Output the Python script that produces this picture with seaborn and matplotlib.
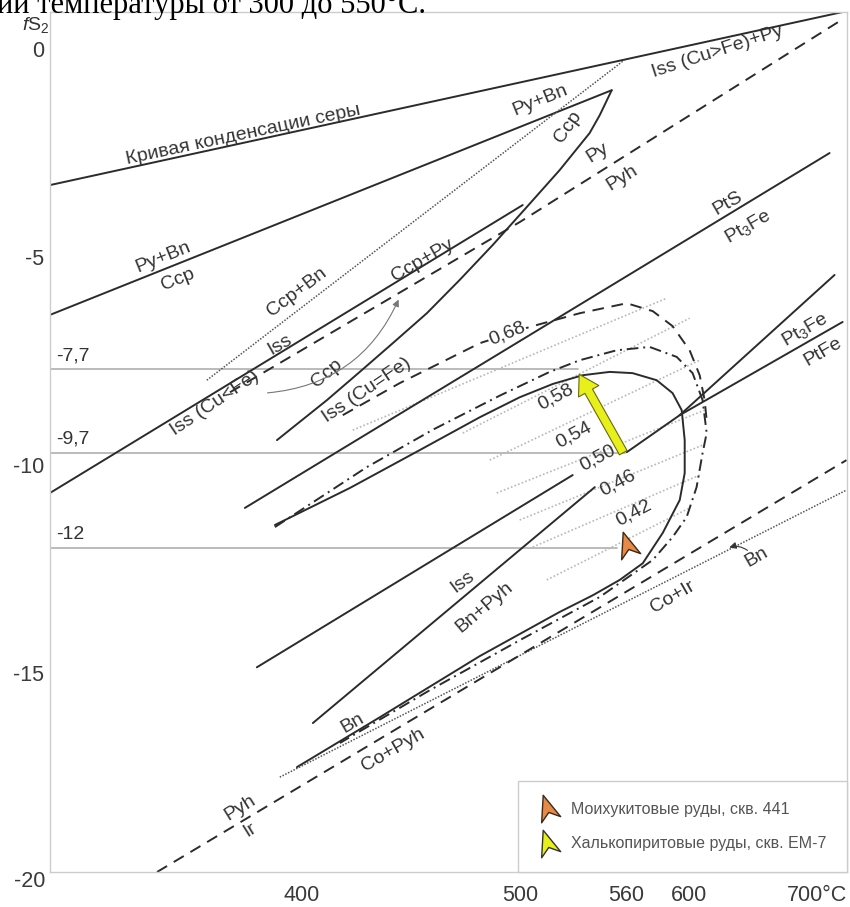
import numpy as np
import matplotlib
matplotlib.use("Agg")
import matplotlib.pyplot as plt
import seaborn as sns
from matplotlib.lines import Line2D
from matplotlib.markers import MarkerStyle
from matplotlib.path import Path
from matplotlib.patches import FancyArrowPatch
from matplotlib.transforms import Affine2D, ScaledTranslation

# temperature (°C) and log fS2
sulfur_t = [312.6, 717.2]
sulfur_f = [-3.27, 0.89]

pybn_t = [312.6, 551.3]
pybn_f = [-6.39, -0.99]

ccp_t = [551.3, 544.2, 538.3, 521.3, 503.4, 485.8, 469.4, 453.8, 438.3, 423.9, 410.1, 390.2]
ccp_f = [-0.99, -1.59, -2.02, -2.91, -3.80, -4.71, -5.55, -6.35, -7.07, -7.76, -8.44, -9.40]

iss_cufe_t = [312.6, 501.3]
iss_cufe_f = [-10.67, -3.75]

ccpbn_t = [364.1, 559.1]
ccpbn_f = [-7.96, -0.26]

pypyh_t = [372.5, 499.7, 716.3]
pypyh_f = [-8.25, -4.16, 0.70]

pts_t = [378.0, 706.1]
pts_f = [-11.03, -2.50]

loop_t = [389.4, 419.7, 450.5, 479.3, 499.7, 517.5, 534.3, 550.1, 564.0, 579.1, 589.4, 595.4,
          597.4, 597.4, 594.1, 583.0, 570.3, 556.1, 540.1, 521.3, 479.3, 432.6, 398.0]
loop_f = [-11.44, -10.55, -9.64, -8.85, -8.37, -8.05, -7.84, -7.76, -7.79, -7.96, -8.27, -8.68,
          -9.40, -10.19, -10.84, -11.63, -12.36, -12.76, -13.13, -13.53, -14.59, -16.06, -17.26]

dd_t = [389.4, 426.9, 456.6, 489.4, 515.8, 532.6, 554.3, 574.6, 592.1, 602.7, 609.5, 612.3,
        609.5, 605.4, 598.7, 589.4, 576.6, 544.2, 499.7, 455.2, 415.5]
dd_f = [-11.49, -10.05, -9.15, -8.33, -7.76, -7.48, -7.24, -7.16, -7.40, -7.79, -8.44, -9.23,
        -9.71, -10.53, -11.25, -11.73, -12.28, -13.17, -14.21, -15.41, -16.68]

outer_t = [416.7, 441.4, 459.9, 479.3, 505.0, 532.6, 560.4, 576.6, 589.4, 600.7, 607.5, 610.9, 612.3]
outer_f = [-8.80, -8.03, -7.55, -7.07, -6.68, -6.35, -6.11, -6.30, -6.66, -7.24, -7.84, -8.44, -8.92]

bn_t = [391.3, 720.6]
bn_f = [-17.50, -10.60]

pyhir_t = [346.8, 720.6]
pyhir_f = [-19.78, -9.88]

iss_up_t = [382.5, 528.6]
iss_up_f = [-14.86, -10.24]

iss_bnpyh_t = [404.4, 541.3]
iss_bnpyh_f = [-16.20, -10.53]

pt_stem_t = [560.4, 594.1]
pt_stem_f = [-9.69, -8.80]
pt3fe_t = [594.1, 710.3]
pt3fe_f = [-8.80, -5.43]
ptfe_t = [594.1, 717.2]
ptfe_f = [-8.80, -6.56]

# faint isopleths inside the loop
iso_t = [[420.9, 585.5], [470.9, 600.7], [484.3, 607.5], [487.8, 610.9],
         [499.7, 610.9], [506.6, 607.5], [514.2, 600.7]]
iso_f = [[-9.16, -5.99], [-9.23, -6.47], [-9.88, -7.48], [-10.67, -8.68],
         [-11.32, -9.50], [-11.97, -10.24], [-12.76, -11.03]]

iso_labels = ["0,68", "0,58", "0,54", "0,50", "0,46", "0,42"]
iso_lab_t = [493.0, 519.1, 529.2, 543.0, 554.9, 564.7]
iso_lab_f = [-6.83, -8.37, -9.28, -9.83, -10.43, -11.15]
iso_lab_rot = [22, 28, 28, 28, 28, 28]

ref_f = [-7.7, -9.7, -12.0]
ref_end_t = [531.5, 559.1, 554.3]
ref_labels = ["-7,7", "-9,7", "-12"]

# samples
moi_t, moi_f = 560.4, -11.92
chp_t = [559.1, 531.5]
chp_f = [-9.76, -7.76]

phase_labels = [
    ("Кривая конденсации серы", 377.3, -2.07, 12),
    ("Py+Bn", 348.8, -5.00, 22),
    ("Ccp", 353.9, -5.55, 22),
    ("Py+Bn", 510.4, -1.23, 22),
    ("Ccp", 525.8, -1.88, 55),
    ("Iss (Cu>Fe)+Py", 619.9, -0.07, 18),
    ("Py", 543.0, -2.50, 32),
    ("Pyh", 557.3, -3.10, 32),
    ("Ccp+Bn", 398.0, -5.84, 37),
    ("Iss", 391.3, -7.12, 30),
    ("Ccp+Py", 451.9, -5.07, 30),
    ("Ccp", 410.1, -7.79, 40),
    ("Iss (Cu<Fe)", 367.0, -8.51, 34),
    ("Iss (Cu=Fe)", 426.9, -8.20, 34),
    ("PtS", 627.0, -3.70, 30),
    ("Pt$_3$Fe", 641.5, -4.28, 30),
    ("Pt$_3$Fe", 685.5, -6.75, 30),
    ("PtFe", 700.2, -7.28, 30),
    ("Iss", 470.9, -12.81, 37),
    ("Bn+Pyh", 481.8, -13.41, 40),
    ("Bn", 420.9, -16.20, 30),
    ("Co+Pyh", 438.3, -16.85, 30),
    ("Pyh", 376.1, -18.25, 32),
    ("Ir", 379.9, -18.77, 32),
    ("Co+Ir", 589.4, -13.17, 30),
    ("Bn", 648.2, -12.21, 30),
]

xticks = [400, 500, 560, 600, 700]
xtick_labels = ["400", "500", "560", "600", "700°C"]
yticks = [0, -5, -10, -15]
ytick_labels = ["0", "-5", "-10", "-15"]

legend_labels = ["Моихукитовые руды, скв. 441", "Халькопиритовые руды, скв. ЕМ-7"]

INK = "#2b2b2b"
ORANGE = "#e68a45"
YELLOW = "#e8f01c"

sns.set_theme(style="white")
plt.rcParams["font.family"] = ["Liberation Sans", "DejaVu Sans"]
plt.rcParams["axes.unicode_minus"] = False
plt.rcParams["mathtext.fontset"] = "custom"
plt.rcParams["mathtext.rm"] = "Liberation Sans"
plt.rcParams["mathtext.it"] = "Liberation Sans:italic"

fig = plt.figure(figsize=(8.5, 9.07), dpi=100)
ax = fig.add_axes([50 / 850, 35 / 907, 797 / 850, 860 / 907])


def fwd(t):
    return -1000.0 / (np.asarray(t, dtype=float) + 273.15)


def inv(u):
    with np.errstate(divide="ignore"):
        return -1000.0 / np.asarray(u, dtype=float) - 273.15


ax.set_xscale("function", functions=(fwd, inv))
ax.set_xlim(312.6, 721)
ax.set_ylim(-19.78, 0.89)

DASH = (0, (6, 4))
DASHDOT = (0, (6, 2.5, 1, 2.5))
DOT = (0, (1, 1))


def draw(t, f, ls="-", lw=1.4, color=INK, z=2):
    sns.lineplot(x=t, y=f, sort=False, estimator=None, ax=ax,
                 color=color, linewidth=lw, linestyle=ls, zorder=z)


# reference levels
for y, t_end, lab in zip(ref_f, ref_end_t, ref_labels):
    draw([312.6, t_end], [y, y], lw=1.3, color="#b5b5b5", z=1)
    ax.text(314.5, y + 0.12, lab, fontsize=14, color="#333333", ha="left", va="bottom")

for t, f in zip(iso_t, iso_f):
    draw(t, f, ls=(0, (1, 1.3)), lw=1.2, color="#b8b8b8", z=1)

draw(sulfur_t, sulfur_f)
draw(pybn_t, pybn_f)
draw(ccp_t, ccp_f)
draw(iss_cufe_t, iss_cufe_f)
draw(ccpbn_t, ccpbn_f, ls=DOT, lw=1.1, color="#555555")
draw(pypyh_t, pypyh_f, ls=DASH)
draw(pts_t, pts_f)
draw(loop_t, loop_f)
draw(dd_t, dd_f, ls=DASHDOT)
draw(outer_t, outer_f, ls=DASH)
draw(bn_t, bn_f, ls=DOT, lw=1.1, color="#555555")
draw(pyhir_t, pyhir_f, ls=DASH)
draw(iss_up_t, iss_up_f)
draw(iss_bnpyh_t, iss_bnpyh_f)
draw(pt_stem_t, pt_stem_f)
draw(pt3fe_t, pt3fe_f)
draw(ptfe_t, ptfe_f)

for txt, t, f, rot in phase_labels:
    ax.text(t, f, txt, fontsize=14, color="#333333", rotation=rot,
            rotation_mode="anchor", ha="center", va="center")

for i, (txt, t, f, rot) in enumerate(zip(iso_labels, iso_lab_t, iso_lab_f, iso_lab_rot)):
    bbox = dict(fc="white", ec="none", pad=0.5) if i == 0 else None
    ax.text(t, f, txt, fontsize=14, color="#333333", rotation=rot,
            rotation_mode="anchor", ha="center", va="center", bbox=bbox, zorder=4)

# leaders
ax.annotate("", xy=(441.4, -5.96), xytext=(385.5, -8.27),
            arrowprops=dict(arrowstyle="-|>", color="#777777", lw=0.8,
                            connectionstyle="arc3,rad=0.3", mutation_scale=10))
ax.annotate("", xy=(626.3, -12.0), xytext=(643.0, -12.09),
            arrowprops=dict(arrowstyle="-|>", color="#333333", lw=0.8,
                            connectionstyle="arc3,rad=0.3", mutation_scale=10))

# markers
chev = Path([(0, 1), (0.72, -0.85), (0, -0.3), (-0.72, -0.85), (0, 1)],
            [Path.MOVETO, Path.LINETO, Path.LINETO, Path.LINETO, Path.CLOSEPOLY])
chev_marker = MarkerStyle(chev, transform=Affine2D().rotate_deg(18))

ax.plot([moi_t], [moi_f], ls="none", marker=chev_marker, ms=20, mfc=ORANGE,
        mec="#3b2a1a", mew=1, zorder=6)

arrow = FancyArrowPatch((chp_t[0], chp_f[0]), (chp_t[1], chp_f[1]),
                        arrowstyle="simple,head_length=1.0,head_width=1.2,tail_width=0.45",
                        mutation_scale=14, fc=YELLOW, ec="#6a6a10", lw=0.8, zorder=6)
ax.add_patch(arrow)

# axes
ax.set_xticks(xticks)
ax.set_xticklabels(xtick_labels)
ax.set_yticks(yticks)
ax.set_yticklabels(ytick_labels)
ax.tick_params(axis="x", direction="out", length=6, width=1, color="#aaaaaa",
               pad=3.5, labelsize=15.5, labelcolor="#3a3a3a")
ax.tick_params(axis="y", direction="in", length=7, width=1, color="#aaaaaa",
               pad=4, labelsize=15.5, labelcolor="#3a3a3a")
last = ax.get_xticklabels()[-1]
last.set_transform(last.get_transform() + ScaledTranslation(-4 / 72, 0, fig.dpi_scale_trans))
ax.text(-0.006, -20, "-20", transform=ax.get_yaxis_transform(), fontsize=15.5,
        color="#3a3a3a", ha="right", va="center", clip_on=False)
ax.set_xlabel("")
ax.set_ylabel("")
ax.grid(False)
for s in ax.spines.values():
    s.set_color("#cccccc")
    s.set_linewidth(1.0)

fig.text(36 / 850, 1 - 25 / 907, r"$\mathit{f}\mathrm{S}_2$", fontsize=14,
         color="#333333", ha="center", va="center")
fig.text(-0.004, 1 - 13 / 907, "ии температуры от 300 до 550°С.",
         family=["Liberation Serif", "DejaVu Serif"], fontsize=22, va="baseline", color="black")

h1 = Line2D([], [], ls="none", marker=chev_marker, ms=20, mfc=ORANGE, mec="#3b2a1a", mew=1)
h2 = Line2D([], [], ls="none", marker=chev_marker, ms=20, mfc=YELLOW, mec="#333333", mew=1)
leg = ax.legend([h1, h2], legend_labels, loc="lower right", borderaxespad=0.0,
                frameon=True, fancybox=False, fontsize=11.5, labelcolor="#555555",
                handletextpad=1.0, borderpad=1.3, labelspacing=1.2, handlelength=1.0)
leg.get_frame().set_edgecolor("#cccccc")
leg.get_frame().set_linewidth(1.0)
leg.get_frame().set_alpha(1.0)

fig.savefig("out.png", dpi=100)
